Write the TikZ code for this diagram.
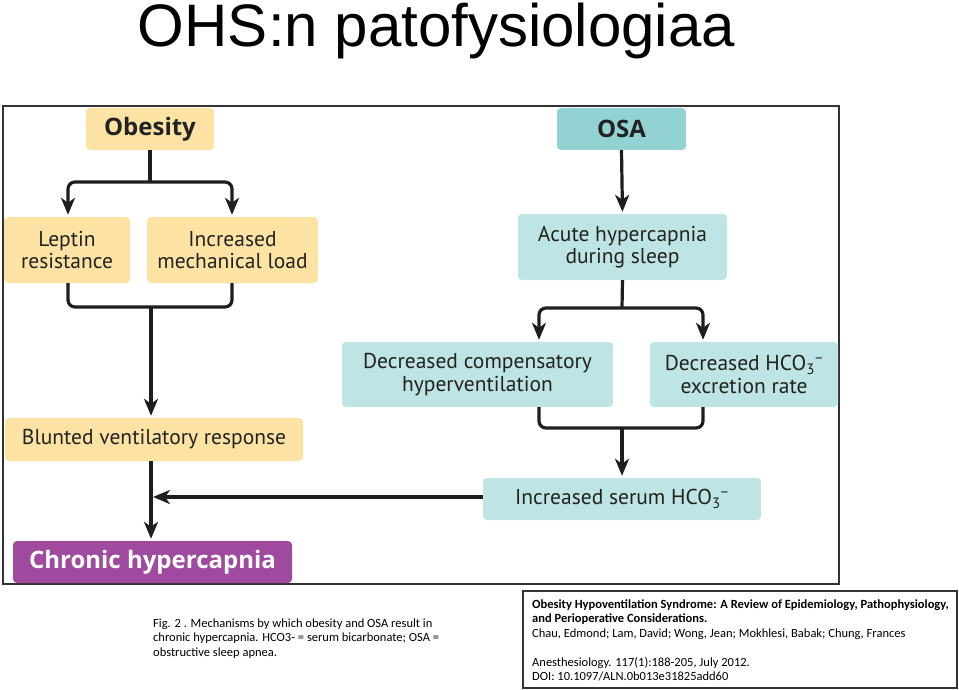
\documentclass[tikz,border=0pt]{standalone}
\usepackage{fontspec}
\setmainfont{PT Sans}
\newfontfamily\titlefont{Liberation Sans}
\newfontfamily\capfont{Carlito}
\newfontfamily\headfont{Open Sans}
\usetikzlibrary{arrows.meta,calc}
\definecolor{ybox}{HTML}{FCE3A4}
\definecolor{tdark}{HTML}{93D2D2}
\definecolor{tlight}{HTML}{BEE4E4}
\definecolor{purp}{HTML}{A04A9F}
\definecolor{txt}{HTML}{222222}
\definecolor{arrc}{HTML}{1E1E1E}
\tikzset{
  box/.style={rounded corners=4pt, inner sep=0pt, align=center, text=txt, font=\fontsize{21.5}{22.5}\selectfont},
  ybx/.style={box, fill=ybox},
  tbx/.style={box, fill=tlight},
  hdr/.style={font=\headfont\fontsize{24}{25}\selectfont\bfseries},
  conn/.style={draw=arrc, line width=3.2pt, rounded corners=7pt},
  arr/.style={conn, -{Stealth[length=17pt,width=14pt,inset=5pt]}, shorten >=2pt},
  captxt/.style={anchor=base west, inner sep=0pt, text=black}
}
\begin{document}
\begin{tikzpicture}[x=1pt,y=-1pt]
\useasboundingbox (0,0) rectangle (959,690);
% title
\node[anchor=base, inner sep=0pt, font=\titlefont\fontsize{60}{62}\selectfont] (title) at (436.5,47) {OHS:n patofysiologiaa};
% frame
\draw[line width=1.3pt, draw=black!80] (3,106) rectangle (839,584);
% boxes
\node[ybx, hdr, minimum width=128pt, minimum height=42pt] (obesity) at (150,129) {\raisebox{-2pt}{Obesity}};
\node[box, fill=tdark, hdr, minimum width=129pt, minimum height=42pt] (osa) at (621.5,129) {\raisebox{-1pt}{OSA}};
\node[ybx, minimum width=126pt, minimum height=66pt] (leptin) at (67,250) {Leptin\\resistance};
\node[ybx, minimum width=171pt, minimum height=66pt] (mech) at (232.5,250) {Increased\\mechanical load};
\node[tbx, minimum width=209pt, minimum height=66pt] (acute) at (622.5,247) {Acute hypercapnia\\during sleep};
\node[tbx, minimum width=271pt, minimum height=65pt] (dcomp) at (477.5,374.5) {Decreased compensatory\\hyperventilation};
\node[tbx, minimum width=188pt, minimum height=65pt] (dhco) at (744,374.5) {Decreased HCO\textsubscript{3}\textsuperscript{\textminus}\\excretion rate};
\node[ybx, minimum width=298pt, minimum height=43pt] (blunted) at (154,439.5) {Blunted ventilatory response};
\node[tbx, minimum width=278pt, minimum height=42pt] (serum) at (622,499) {Increased serum HCO\textsubscript{3}\textsuperscript{\textminus}};
\node[box, fill=purp, text=white, hdr, minimum width=279pt, minimum height=42pt] (chronic) at (152.5,562) {\raisebox{-1pt}{Chronic hypercapnia}};
% junctions
\coordinate (j1) at (150,182);
\coordinate (j2) at (151,307);
\coordinate (j3) at (622,308);
\coordinate (j4) at (622,428);
\coordinate (xl) at (68,0);
\coordinate (xm) at (232,0);
\coordinate (xa) at (539,0);
\coordinate (xb) at (703,0);
\coordinate (xc) at (151,0);
% obesity branch
\draw[conn] (obesity.south) -- (j1);
\draw[arr] (j1) -| (leptin.north -| xl);
\draw[arr] (j1) -| (mech.north -| xm);
\draw[conn] (leptin.south -| xl) |- (j2);
\draw[conn] (mech.south -| xm) |- (j2);
\draw[arr] (j2) -- (blunted.north -| xc);
\draw[arr] (blunted.south -| xc) -- (chronic.north -| xc);
% OSA branch
\draw[arr] (osa.south) -- (acute.north);
\draw[conn] (acute.south) -- (j3);
\draw[arr] (j3) -| (dcomp.north -| xa);
\draw[arr] (j3) -| (dhco.north -| xb);
\draw[conn] (dcomp.south -| xa) |- (j4);
\draw[conn] (dhco.south -| xb) |- (j4);
\draw[arr] (j4) -- (serum.north);
\draw[arr] ($(serum.west)+(0,-2)$) -- ($(serum.west -| xc)+(0,-2)$);
% caption
\begin{scope}[font=\capfont\fontsize{12.5}{14}\selectfont]
\node[captxt] (cap1) at (153,627) {Fig. 2 . Mechanisms by which obesity and OSA result in};
\node[captxt] (cap2) at (153,641.5) {chronic hypercapnia. HCO3- = serum bicarbonate; OSA =};
\node[captxt] (cap3) at (153,656) {obstructive sleep apnea.};
\end{scope}
% reference box
\draw[line width=1.3pt, draw=black!80] (523,591) rectangle (957,688);
\begin{scope}[font=\capfont\fontsize{12.5}{14}\selectfont]
\node[captxt, font=\capfont\fontsize{12.5}{14}\selectfont\bfseries] (ref1) at (532,608) {Obesity Hypoventilation Syndrome: A Review of Epidemiology, Pathophysiology,};
\node[captxt, font=\capfont\fontsize{12.5}{14}\selectfont\bfseries] (ref2) at (532,622.5) {and Perioperative Considerations.};
\node[captxt] (ref3) at (532,637) {Chau, Edmond; Lam, David; Wong, Jean; Mokhlesi, Babak; Chung, Frances};
\node[captxt] (ref4) at (532,666) {Anesthesiology. 117(1):188-205, July 2012.};
\node[captxt] (ref5) at (532,680.5) {DOI: 10.1097/ALN.0b013e31825add60};
\end{scope}
\end{tikzpicture}
\end{document}
